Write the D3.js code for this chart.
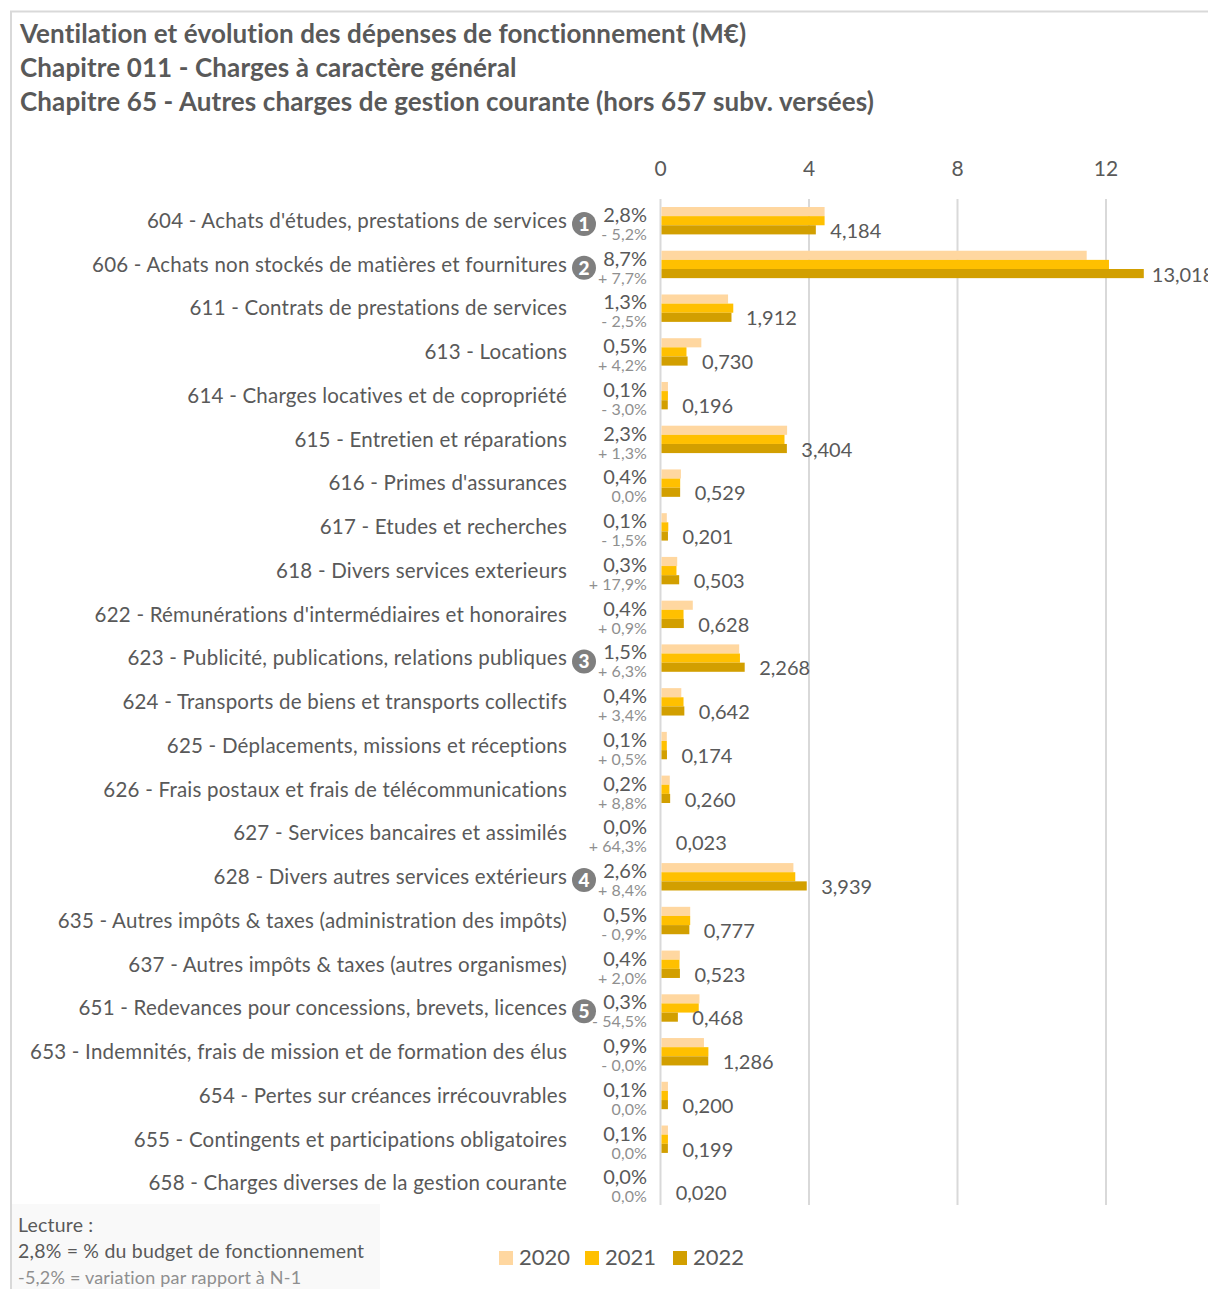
<!DOCTYPE html>
<html lang="fr">
<head>
<meta charset="utf-8">
<title>Dépenses de fonctionnement</title>
<script src="https://cdn.jsdelivr.net/npm/d3@7"></script>
<style>
    html, body { margin: 0; padding: 0; background: #fff; }
    svg { display: block; }
    text { font-family: Lato, "Open Sans", sans-serif; fill: #595959; }
    .plotTitle { font-size: 26px; font-weight: 700; letter-spacing: 0.12px; }
    .rowLabel { font-size: 20.5px; letter-spacing: 0.22px; }
    .pct { font-size: 20px; }
    .variation { font-size: 16px; fill: #8f8f8f; letter-spacing: 0.1px; }
    .valueLabel { font-size: 20px; }
    .axis text { font-size: 21px; }
    .legend { font-size: 22px; }
    .note { font-size: 19.5px; letter-spacing: 0.2px; }
    .noteSmall { font-size: 18px; fill: #8f8f8f; letter-spacing: 0.2px; }
    .badge { font-size: 19px; font-weight: 900; fill: #fff; }
</style>
</head>
<body>
<svg id="chart" width="1208" height="1289"></svg>
<script>
const titles = [
    "Ventilation et évolution des dépenses de fonctionnement (M€)",
    "Chapitre 011 - Charges à caractère général",
    "Chapitre 65 - Autres charges de gestion courante (hors 657 subv. versées)"
]
const categories = [
    "604 - Achats d'études, prestations de services",
    "606 - Achats non stockés de matières et fournitures",
    "611 - Contrats de prestations de services",
    "613 - Locations",
    "614 - Charges locatives et de copropriété",
    "615 - Entretien et réparations",
    "616 - Primes d'assurances",
    "617 - Etudes et recherches",
    "618 - Divers services exterieurs",
    "622 - Rémunérations d'intermédiaires et honoraires",
    "623 - Publicité, publications, relations publiques",
    "624 - Transports de biens et transports collectifs",
    "625 - Déplacements, missions et réceptions",
    "626 - Frais postaux et frais de télécommunications",
    "627 - Services bancaires et assimilés",
    "628 - Divers autres services extérieurs",
    "635 - Autres impôts & taxes (administration des impôts)",
    "637 - Autres impôts & taxes (autres organismes)",
    "651 - Redevances pour concessions, brevets, licences",
    "653 - Indemnités, frais de mission et de formation des élus",
    "654 - Pertes sur créances irrécouvrables",
    "655 - Contingents et participations obligatoires",
    "658 - Charges diverses de la gestion courante"
]
const values2020 = [4.42, 11.48, 1.82, 1.10, 0.20, 3.41, 0.55, 0.17, 0.45, 0.87, 2.12, 0.56, 0.17, 0.25, 0.014, 3.58, 0.80, 0.52, 1.05, 1.17, 0.20, 0.20, 0.02]
const values2021 = [4.42, 12.08, 1.96, 0.70, 0.20, 3.34, 0.53, 0.21, 0.43, 0.62, 2.14, 0.62, 0.17, 0.24, 0.014, 3.63, 0.80, 0.51, 1.03, 1.29, 0.20, 0.20, 0.02]
const values2022 = [4.184, 13.018, 1.912, 0.730, 0.196, 3.404, 0.529, 0.201, 0.503, 0.628, 2.268, 0.642, 0.174, 0.260, 0.023, 3.939, 0.777, 0.523, 0.468, 1.286, 0.200, 0.199, 0.020]
const budgetShare = ["2,8%", "8,7%", "1,3%", "0,5%", "0,1%", "2,3%", "0,4%", "0,1%", "0,3%", "0,4%", "1,5%", "0,4%", "0,1%", "0,2%", "0,0%", "2,6%", "0,5%", "0,4%", "0,3%", "0,9%", "0,1%", "0,1%", "0,0%"]
const variations = ["- 5,2%", "+ 7,7%", "- 2,5%", "+ 4,2%", "- 3,0%", "+ 1,3%", "0,0%", "- 1,5%", "+ 17,9%", "+ 0,9%", "+ 6,3%", "+ 3,4%", "+ 0,5%", "+ 8,8%", "+ 64,3%", "+ 8,4%", "- 0,9%", "+ 2,0%", "- 54,5%", "- 0,0%", "0,0%", "0,0%", "0,0%"]
const badgeRows = [0, 1, 10, 15, 18]
const years = ["2020", "2021", "2022"]
const yearColors = ["#FFD7A0", "#FFC000", "#D29F00"]
const axisTicks = [0, 4, 8, 12]
const noteLines = ["Lecture :", "2,8% = % du budget de fonctionnement", "-5,2% = variation par rapport à N-1"]

const fmt = d => d3.format(".3f")(d).replace(".", ",")

let xScale = d3.scaleLinear().domain([0, 12]).range([660.5, 1106])
let yScale = d3.scaleBand().domain(categories).range([199, 1205])
let yearScale = d3.scaleBand().domain(years).range([8, 35.4])

let axis = d3.select("#chart")

// Frame
axis.append("path")
    .attr("d", "M1208,11.5H11V1289")
    .attr("fill", "none")
    .attr("stroke", "#d9d9d9")
    .attr("stroke-width", 2)

// Title
axis.selectAll(".plotTitle")
    .data(titles)
    .enter()
    .append("text")
    .attr("class", "plotTitle")
    .attr("x", 20)
    .attr("y", (d, i) => [43, 77, 111][i])
    .text(d => d)

// Grid
axis.selectAll(".grid")
    .data(axisTicks)
    .enter()
    .append("line")
    .attr("class", "grid")
    .attr("x1", d => xScale(d))
    .attr("x2", d => xScale(d))
    .attr("y1", 199)
    .attr("y2", 1205)
    .attr("stroke", "#d9d9d9")
    .attr("stroke-width", 2)

// Top axis
let x_axis = d3.axisTop(xScale).tickValues(axisTicks).tickSize(0).tickPadding(0)
axis.append("g")
    .attr("class", "axis")
    .attr("transform", "translate(-0.5,176)")
    .call(x_axis)
    .call(g => g.select(".domain").remove())

// Bars
let series = [values2020, values2021, values2022]
series.forEach(function (vals, s) {
    axis.selectAll(".bar" + s)
        .data(vals)
        .enter()
        .append("rect")
        .attr("class", "bar" + s)
        .attr("x", xScale(0) + 1)
        .attr("y", (d, i) => yScale(categories[i]) + yearScale(years[s]))
        .attr("width", d => Math.max(0, xScale(d) - xScale(0) - 1))
        .attr("height", yearScale.bandwidth())
        .attr("fill", yearColors[s])
})

// Row labels
axis.selectAll(".rowLabel")
    .data(categories)
    .enter()
    .append("text")
    .attr("class", "rowLabel")
    .attr("x", 567)
    .attr("y", d => yScale(d) + 29)
    .attr("text-anchor", "end")
    .text(d => d)

axis.selectAll(".pct")
    .data(budgetShare)
    .enter()
    .append("text")
    .attr("class", "pct")
    .attr("x", 647)
    .attr("y", (d, i) => yScale(categories[i]) + 23)
    .attr("text-anchor", "end")
    .text(d => d)

axis.selectAll(".variation")
    .data(variations)
    .enter()
    .append("text")
    .attr("class", "variation")
    .attr("x", 647)
    .attr("y", (d, i) => yScale(categories[i]) + 41)
    .attr("text-anchor", "end")
    .text(d => d)

// Value labels, the 13,018 one sits closer to its bar
axis.selectAll(".valueLabel")
    .data(values2022)
    .enter()
    .append("text")
    .attr("class", "valueLabel")
    .attr("x", d => xScale(d) + (d > 12 ? 8 : 14.5))
    .attr("y", (d, i) => yScale(categories[i]) + 39)
    .text(d => fmt(d))

// Numbered circles
badgeRows.forEach(function (row, i) {
    let cy = yScale(categories[row]) + 25
    axis.append("circle").attr("cx", 584).attr("cy", cy).attr("r", 12).attr("fill", "#7f7f7f")
    axis.append("text")
        .attr("class", "badge")
        .attr("x", 584)
        .attr("y", cy + 7)
        .attr("text-anchor", "middle")
        .text(i + 1)
})

// Reading note
axis.append("rect")
    .attr("x", 12).attr("y", 1204)
    .attr("width", 368).attr("height", 85)
    .attr("fill", "#f9f9f9")
axis.selectAll(".noteLine")
    .data(noteLines)
    .enter()
    .append("text")
    .attr("class", (d, i) => i === 2 ? "noteLine noteSmall" : "noteLine note")
    .attr("x", 18)
    .attr("y", (d, i) => [1232, 1258, 1284][i])
    .text(d => d)

// Legend
years.forEach(function (d, i) {
    let lgnd = axis.append("g").attr("transform", `translate(${[499, 585, 673][i]},1251)`)
    lgnd.append("rect").attr("width", 14).attr("height", 14).attr("fill", yearColors[i])
    lgnd.append("text").attr("class", "legend").attr("x", 20).attr("y", 14).text(d)
})
</script>
</body>
</html>
